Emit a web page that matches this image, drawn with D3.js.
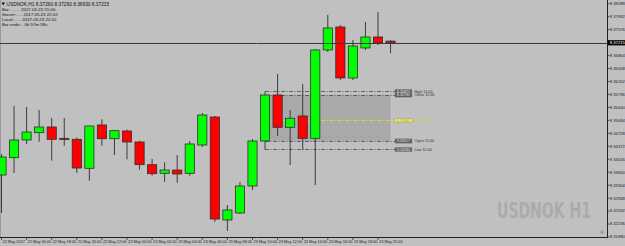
<!DOCTYPE html>
<html>
<head>
<meta charset="utf-8">
<script src="https://cdn.jsdelivr.net/npm/d3@7"></script>
<style>
  body { margin: 0; background: #c0c0c0; }
  svg { display: block; font-family: "Liberation Sans", Arial, sans-serif; }
</style>
</head>
<body>
<div id="chart"></div>
<script>
// hourly bars, 22 May 14:00 .. 23 May 21:00
const openVals  = [8.33583, 8.34058, 8.34545, 8.34745, 8.34902, 8.34590, 8.34564, 8.33767, 8.34957, 8.34580,
                   8.34792, 8.34490, 8.33866, 8.33630, 8.33720, 8.33630, 8.34407, 8.35176, 8.32347, 8.32539,
                   8.33281, 8.34517, 8.35781, 8.34893, 8.35204, 8.34591, 8.37017, 8.37649, 8.36248, 8.37072,
                   8.37374, 8.37260];
const highVals  = [8.34160, 8.35479, 8.35451, 8.35369, 8.35149, 8.35149, 8.34608, 8.34935, 8.35113, 8.34819,
                   8.34828, 8.34525, 8.34023, 8.33932, 8.34133, 8.34517, 8.35286, 8.35204, 8.32759, 8.33391,
                   8.34572, 8.35877, 8.36358, 8.35369, 8.36083, 8.37044, 8.37978, 8.37704, 8.37292, 8.37786,
                   8.38061, 8.37290];
const lowVals   = [8.32539, 8.33638, 8.34435, 8.34498, 8.33976, 8.34388, 8.33638, 8.33427, 8.34388, 8.34133,
                   8.34014, 8.33729, 8.33564, 8.33391, 8.33372, 8.33564, 8.34352, 8.32292, 8.32045, 8.32512,
                   8.33171, 8.34284, 8.34654, 8.33858, 8.34270, 8.33308, 8.36962, 8.36193, 8.36193, 8.37017,
                   8.37154, 8.36930];
const closeVals = [8.34078, 8.34545, 8.34764, 8.34902, 8.34564, 8.34560, 8.33775, 8.34929, 8.34580, 8.34800,
                   8.34490, 8.33866, 8.33619, 8.33720, 8.33611, 8.34435, 8.35231, 8.32374, 8.32622, 8.33281,
                   8.34517, 8.35781, 8.34893, 8.35141, 8.34591, 8.37017, 8.37621, 8.36248, 8.37127, 8.37374,
                   8.37209, 8.37215];

const priceTicks = ["8.31880", "8.32236", "8.32592", "8.32948", "8.33304", "8.33660", "8.34016", "8.34372",
                    "8.34728", "8.35084", "8.35440", "8.35796", "8.36152", "8.36508", "8.36864", "8.37576",
                    "8.37932", "8.38288"];
const timeTickBars = [0, 2, 4, 6, 8, 10, 12, 14, 16, 18, 20, 22, 24, 26, 28, 30];
const timeTickLabels = ["22 May 2017", "22 May 16:00", "22 May 18:00", "22 May 20:00", "22 May 22:00",
                        "23 May 00:00", "23 May 02:00", "23 May 04:00", "23 May 06:00", "23 May 08:00",
                        "23 May 10:00", "23 May 12:00", "23 May 14:00", "23 May 16:00", "23 May 18:00",
                        "23 May 20:00"];

const currentPrice = 8.37215;
const levelBar = 21;   // the 23 May 11:00 bar
const levelNames = ["High", "Close", "Mid", "Open", "Low"];

const infoLines = ["USDNOK,H1  8.37260 8.37290 8.36930 8.37215",
                   "Bar:........  2017.05.23 21:00",
                   "Server:.....  2017.05.23 22:02",
                   "Local:......  2017.05.23 22:02",
                   "Bar ends:..  0h 57m 58s"];

const width = 625, height = 246;
const plotRight = 607, plotBottom = 237;

let svg = d3.select("#chart")
    .append("svg")
    .attr("width", width)
    .attr("height", height);

svg.append("rect").attr("width", width).attr("height", height).attr("fill", "#c0c0c0");

let x = d3.scaleLinear().domain([0, 31]).range([1.5, 390.55]);
let y = d3.scaleLinear().domain([8.3188, 8.3828]).range([237, 4]);

let bars = d3.range(openVals.length).map(function(i) {
    return {i: i, o: openVals[i], h: highVals[i], l: lowVals[i], c: closeVals[i]};
});

// watermark
svg.append("text")
    .attr("x", 497).attr("y", 218)
    .attr("textLength", 94).attr("lengthAdjust", "spacingAndGlyphs")
    .style("font-family", "'DejaVu Sans Condensed', 'DejaVu Sans', sans-serif")
    .style("font-weight", "bold")
    .style("font-size", "22px")
    .attr("fill", "#ababab")
    .text("USDNOK H1");

// left border
svg.append("line").attr("x1", 0.5).attr("x2", 0.5).attr("y1", 0).attr("y2", plotBottom)
    .attr("stroke", "#9c9c9c");

// level box for the 11:00 bar
let lb = bars[levelBar];
let levels = [lb.h, lb.c, (lb.h + lb.l) / 2, lb.o, lb.l];
let boxX = 395;

svg.append("rect")
    .attr("x", x(levelBar)).attr("y", y(Math.max(lb.o, lb.c)))
    .attr("width", x(31) - x(levelBar))
    .attr("height", y(Math.min(lb.o, lb.c)) - y(Math.max(lb.o, lb.c)))
    .attr("fill", "#a9a9a9");

svg.selectAll(".lvl").data(levels).enter()
    .append("line")
    .attr("x1", x(levelBar)).attr("x2", boxX)
    .attr("y1", function(d) { return Math.round(y(d)) + 0.5; })
    .attr("y2", function(d) { return Math.round(y(d)) + 0.5; })
    .attr("stroke", function(d, i) { return i == 2 ? "#e6e600" : "#4a4a4a"; })
    .attr("stroke-width", 0.8)
    .attr("stroke-dasharray", "4,1.5,1,1.5");

// candles
svg.selectAll(".wick").data(bars).enter()
    .append("line")
    .attr("x1", function(d) { return x(d.i); })
    .attr("x2", function(d) { return x(d.i); })
    .attr("y1", function(d) { return y(d.h); })
    .attr("y2", function(d) { return y(d.l); })
    .attr("stroke", "#3c3c3c")
    .attr("stroke-width", 1);

svg.selectAll(".body").data(bars).enter()
    .append("rect")
    .attr("x", function(d) { return x(d.i) - 4.6; })
    .attr("y", function(d) { return y(Math.max(d.o, d.c)); })
    .attr("width", 9.2)
    .attr("height", function(d) { return Math.max(0.8, y(Math.min(d.o, d.c)) - y(Math.max(d.o, d.c))); })
    .attr("fill", function(d) { return d.c >= d.o ? "#00ff00" : "#ff0000"; })
    .attr("stroke", "#2e2e2e")
    .attr("stroke-width", 0.8);

// level labels
svg.selectAll(".lvlbox").data(levels).enter()
    .append("rect")
    .attr("x", boxX).attr("y", function(d) { return y(d) - 2.2; })
    .attr("width", 17).attr("height", 4.4)
    .attr("fill", function(d, i) { return i == 2 ? "#f4f46a" : "#5c5c5c"; })
    .attr("stroke", "#8c8c8c").attr("stroke-width", 0.5);

svg.selectAll(".lvlval").data(levels).enter()
    .append("text")
    .attr("x", boxX + 8.5).attr("y", function(d) { return y(d) + 1.3; })
    .style("text-anchor", "middle")
    .style("font-size", "3.6px")
    .attr("fill", function(d, i) { return i == 2 ? "#8a8a50" : "#e6e6e6"; })
    .text(function(d) { return d.toFixed(5); });

svg.selectAll(".lvlname").data(levels).enter()
    .append("text")
    .attr("x", boxX + 19.5).attr("y", function(d) { return y(d) + 1.4; })
    .style("font-size", "3.8px")
    .attr("fill", function(d, i) { return i == 2 ? "#d8d800" : "#333"; })
    .text(function(d, i) { return levelNames[i] + "  11:00"; });

// current price line
svg.append("line")
    .attr("x1", 0).attr("x2", plotRight)
    .attr("y1", Math.round(y(currentPrice)) + 0.5).attr("y2", Math.round(y(currentPrice)) + 0.5)
    .attr("stroke", "#3a3a3a").attr("stroke-width", 1);

// axes frame
svg.append("line").attr("x1", plotRight + 0.5).attr("x2", plotRight + 0.5).attr("y1", 0).attr("y2", plotBottom)
    .attr("stroke", "#222");
svg.append("line").attr("x1", 0).attr("x2", plotRight + 1).attr("y1", plotBottom + 0.5).attr("y2", plotBottom + 0.5)
    .attr("stroke", "#222");

// price scale
let yAxis = svg.append("g");
yAxis.selectAll("line").data(priceTicks).enter()
    .append("line")
    .attr("x1", plotRight).attr("x2", plotRight + 2.5)
    .attr("y1", function(d) { return y(+d); })
    .attr("y2", function(d) { return y(+d); })
    .attr("stroke", "#222").attr("stroke-width", 0.7);
yAxis.selectAll("text").data(priceTicks).enter()
    .append("text")
    .attr("x", plotRight + 2.8)
    .attr("y", function(d) { return y(+d) + 1.4; })
    .style("font-size", "4.2px")
    .attr("fill", "#222")
    .text(function(d) { return d; });

svg.append("rect")
    .attr("x", plotRight + 0.5).attr("y", y(currentPrice) - 2.6)
    .attr("width", width - plotRight).attr("height", 5.2)
    .attr("fill", "#000");
svg.append("text")
    .attr("x", plotRight + 2.8).attr("y", y(currentPrice) + 1.4)
    .style("font-size", "4.2px")
    .attr("fill", "#fff")
    .text(currentPrice.toFixed(5));

// time scale
let xAxis = svg.append("g");
xAxis.selectAll("line").data(timeTickBars).enter()
    .append("line")
    .attr("x1", function(d) { return x(d); })
    .attr("x2", function(d) { return x(d); })
    .attr("y1", plotBottom).attr("y2", plotBottom + 3)
    .attr("stroke", "#222").attr("stroke-width", 0.7);
xAxis.selectAll("text").data(timeTickBars).enter()
    .append("text")
    .attr("x", function(d) { return x(d) + 1; })
    .attr("y", plotBottom + 5.5)
    .style("font-size", "3.9px")
    .attr("fill", "#222")
    .text(function(d, i) { return timeTickLabels[i]; });

// small shift marker
svg.append("text").attr("x", 600).attr("y", 234).style("font-size", "5px").attr("fill", "#777").text("≞");

// info block top-left
svg.append("path").attr("d", "M1.5,2.5 L5,2.5 L3.25,5.5 Z").attr("fill", "#111");
svg.selectAll(".info").data(infoLines).enter()
    .append("text")
    .attr("x", function(d, i) { return i == 0 ? 6.5 : 2; })
    .attr("y", function(d, i) { return 5.6 + i * 5; })
    .style("font-size", function(d, i) { return i == 0 ? "4.8px" : "4.4px"; })
    .attr("fill", "#111")
    .text(function(d) { return d; });
</script>
</body>
</html>
